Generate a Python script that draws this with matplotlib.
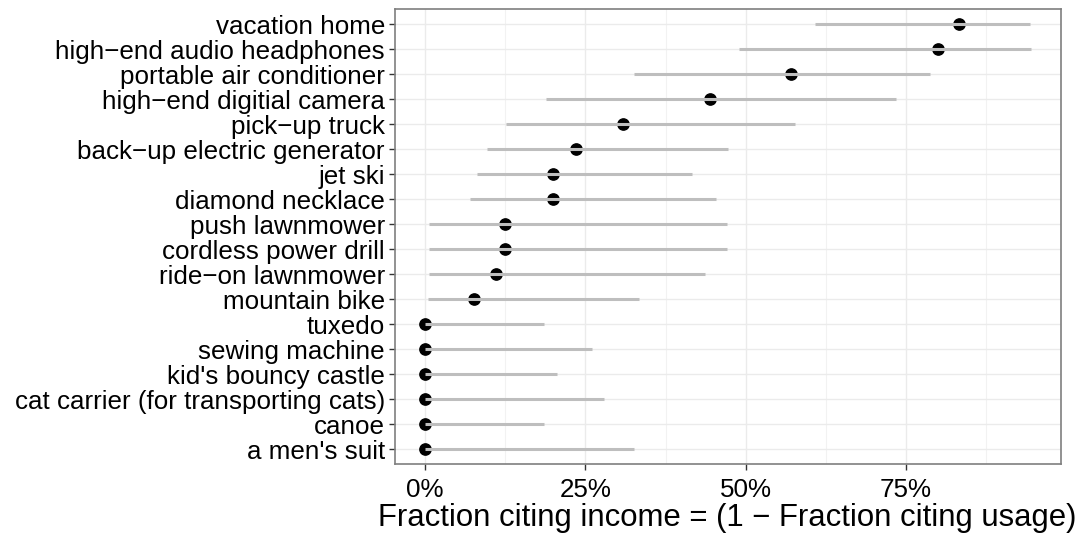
import numpy as np
import matplotlib.pyplot as plt
from matplotlib.ticker import FuncFormatter, MultipleLocator

plt.rcParams['font.family'] = ['Liberation Sans', 'DejaVu Sans']

# items from top to bottom
items = ["vacation home", "high−end audio headphones", "portable air conditioner",
         "high−end digitial camera", "pick−up truck", "back−up electric generator",
         "jet ski", "diamond necklace", "push lawnmower", "cordless power drill",
         "ride−on lawnmower", "mountain bike", "tuxedo", "sewing machine",
         "kid's bouncy castle", "cat carrier (for transporting cats)", "canoe",
         "a men's suit"]
estimate = [83.3, 80.0, 57.1, 44.4, 30.8, 23.5, 20.0, 20.0, 12.5, 12.5,
            11.1, 7.7, 0.0, 0.0, 0.0, 0.0, 0.0, 0.0]
lower = [60.8, 49.0, 32.6, 18.9, 12.7, 9.6, 8.1, 7.1, 0.7, 0.7,
         0.7, 0.5, 0.0, 0.0, 0.0, 0.0, 0.0, 0.0]
upper = [94.3, 94.4, 78.8, 73.4, 57.7, 47.3, 41.7, 45.3, 47.1, 47.1,
         43.6, 33.4, 18.5, 26.0, 20.6, 27.9, 18.5, 32.6]

n = len(items)
ypos = np.arange(n)[::-1]

fig = plt.figure(figsize=(10.81, 5.39), dpi=100)
ax = fig.add_axes([0.3651, 0.1391, 0.9812 - 0.3651, 0.9833 - 0.1391])

ax.scatter(estimate, ypos, s=66, color='black', zorder=3)
ax.hlines(ypos, lower, upper, color='#bebebe', linewidth=2.2, zorder=4)

ax.set_xlim(-4.72, 99.1)
ax.set_ylim(-0.6, n - 0.4)
ax.set_yticks(ypos)
ax.set_yticklabels(items, fontsize=18.7)
ax.xaxis.set_major_locator(MultipleLocator(25))
ax.xaxis.set_minor_locator(MultipleLocator(12.5))
ax.xaxis.set_major_formatter(FuncFormatter(lambda v, p: f"{v:.0f}%"))
ax.tick_params(axis='x', labelsize=18.7, pad=6)
ax.tick_params(axis='y', pad=3)
ax.tick_params(which='both', color='#333333', length=4, width=1)
ax.tick_params(which='minor', length=0)

ax.grid(which='major', color='#ebebeb', linewidth=1.0)
ax.grid(which='minor', axis='x', color='#f2f2f2', linewidth=0.8)
ax.set_axisbelow(True)
for s in ax.spines.values():
    s.set_color('#7f7f7f')
    s.set_linewidth(1.2)

ax.set_xlabel("Fraction citing income = (1 − Fraction citing usage)", fontsize=22.4, labelpad=1)

fig.savefig("out.png", dpi=100)
